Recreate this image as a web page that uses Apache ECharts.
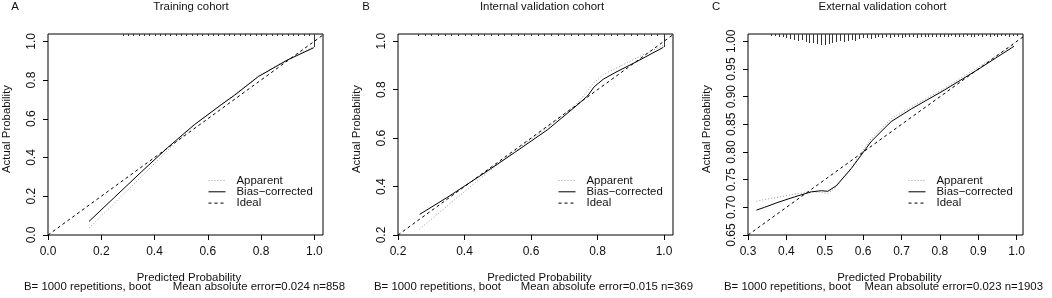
<!DOCTYPE html>
<html>
<head>
<meta charset="utf-8">
<script src="https://cdn.jsdelivr.net/npm/echarts@6/dist/echarts.min.js"></script>
<style>
  html, body { margin: 0; padding: 0; background: #fff; }
  #chart { width: 1052px; height: 298px; }
</style>
</head>
<body>
<div id="chart"></div>
<script>
// panel texts
const panelLetters = ["A", "B", "C"];
const panelTitles = ["Training cohort", "Internal validation cohort", "External validation cohort"];
const bootText = "B= 1000 repetitions, boot";
const errorTexts = [
  "Mean absolute error=0.024 n=858",
  "Mean absolute error=0.015 n=369",
  "Mean absolute error=0.023 n=1903",
];
const legendNames = ["Apparent", "Bias\u2212corrected", "Ideal"];

// tick values
const xTicksA = [0.0, 0.2, 0.4, 0.6, 0.8, 1.0];
const yTicksA = [0.0, 0.2, 0.4, 0.6, 0.8, 1.0];
const xTicksB = [0.2, 0.4, 0.6, 0.8, 1.0];
const yTicksB = [0.2, 0.4, 0.6, 0.8, 1.0];
const xTicksC = [0.3, 0.4, 0.5, 0.6, 0.7, 0.8, 0.9, 1.0];
const yTicksC = [0.65, 0.70, 0.75, 0.80, 0.85, 0.90, 0.95, 1.00];

// A: training cohort
const predA = [0.154, 0.25, 0.35, 0.45, 0.55, 0.65, 0.70, 0.79, 0.90, 0.998];
const apparentA = [0.036, 0.165, 0.300, 0.438, 0.568, 0.674, 0.724, 0.822, 0.907, 0.972];
const biasA = [0.070, 0.195, 0.325, 0.452, 0.570, 0.672, 0.721, 0.818, 0.904, 0.967];
const idealXA = [0, 1.0327];
const idealYA = [0, 1.0327];
const rugXA = [0.28, 0.30, 0.32, 0.34, 0.36, 0.38, 0.40, 0.42, 0.44, 0.46, 0.48, 0.50,
  0.52, 0.54, 0.56, 0.58, 0.60, 0.62, 0.64, 0.66, 0.68, 0.70, 0.72, 0.74, 0.76, 0.78,
  0.80, 0.82, 0.84, 0.86, 0.88, 0.90, 0.92, 0.94, 0.96, 0.98, 1.0];
const rugHA = [1, 1, 1, 1, 1, 1, 1, 1, 1, 1, 1, 1, 1, 1, 1, 1, 1, 1, 1, 1, 1, 1, 1, 1,
  1, 1, 1, 1, 1, 1, 1, 1, 1, 1, 1, 1, 12];

// B: internal validation cohort
const predB = [0.265, 0.35, 0.45, 0.55, 0.65, 0.735, 0.77, 0.79, 0.817, 0.852, 0.922, 0.998];
const apparentB = [0.225, 0.322, 0.437, 0.545, 0.645, 0.737, 0.795, 0.830, 0.862, 0.886, 0.934, 0.983];
const biasB = [0.285, 0.357, 0.447, 0.540, 0.635, 0.732, 0.774, 0.812, 0.843, 0.870, 0.919, 0.975];
const idealXB = [0.2, 1.027];
const idealYB = [0.2, 1.027];
const rugXB = [0.26, 0.28, 0.30, 0.32, 0.34, 0.36, 0.38, 0.40, 0.42, 0.44, 0.46, 0.48,
  0.50, 0.52, 0.54, 0.56, 0.58, 0.60, 0.62, 0.64, 0.66, 0.68, 0.70, 0.72, 0.74, 0.76,
  0.78, 0.80, 0.82, 0.84, 0.86, 0.88, 0.90, 0.92, 0.94, 0.96, 0.98, 1.0];
const rugHB = [1, 1, 1, 1, 1, 1, 1, 1, 1, 1, 1, 1, 1, 1, 1, 1, 1, 1, 1, 1, 1, 1, 1, 1,
  1, 1, 1, 1, 1, 1, 1, 1, 1, 1, 1, 1, 1, 12];

// C: external validation cohort
const predC = [0.322, 0.343, 0.378, 0.422, 0.465, 0.491, 0.508, 0.530, 0.569, 0.621, 0.673, 0.726, 0.812, 0.899, 0.993];
const apparentC = [0.711, 0.714, 0.718, 0.724, 0.728, 0.727, 0.725, 0.737, 0.772, 0.824, 0.860, 0.882, 0.915, 0.953, 0.994];
const biasC = [0.695, 0.700, 0.709, 0.719, 0.728, 0.730, 0.729, 0.739, 0.770, 0.819, 0.855, 0.878, 0.912, 0.949, 0.991];
const idealXC = [0.3, 1.0165];
const idealYC = [0.65, 1.008];
const rugXC = [0.36, 0.37, 0.38, 0.39, 0.40, 0.41, 0.42, 0.43, 0.44, 0.45, 0.46, 0.47,
  0.48, 0.49, 0.50, 0.51, 0.52, 0.53, 0.54, 0.55, 0.56, 0.57, 0.58, 0.59, 0.60, 0.61,
  0.62, 0.63, 0.64, 0.65, 0.66, 0.67, 0.68, 0.69, 0.70, 0.71, 0.72, 0.73, 0.74, 0.75,
  0.76, 0.77, 0.78, 0.79, 0.80, 0.81, 0.82, 0.83, 0.84, 0.85, 0.86, 0.87, 0.88, 0.89,
  0.90, 0.91, 0.92, 0.93, 0.94, 0.95, 0.96, 0.97, 0.98, 0.99, 1.00];
const rugHC = [1, 1, 2, 2, 3, 4, 5, 6, 5, 7, 8, 8, 9, 10, 10, 9, 8, 7, 6, 7, 6, 5, 6, 4,
  3, 3, 4, 3, 2, 3, 2, 3, 2, 2, 3, 2, 2, 2, 3, 2, 2, 2, 2, 2, 2, 2, 2, 1, 2, 2, 2, 1,
  2, 2, 1, 2, 1, 2, 1, 2, 1, 1, 2, 1, 1];

const font = '"Liberation Sans", Arial, sans-serif';
const ink = "#111";
const textSize = 11.4;

const panels = [
  { left: 48, xMin: 0, xMax: 1.0327, yMin: 0, yMax: 1.0377, xTicks: xTicksA, yTicks: yTicksA,
    xDec: 1, yDec: 1, pred: predA, app: apparentA, bias: biasA, ix: idealXA, iy: idealYA,
    rugX: rugXA, rugH: rugHA },
  { left: 398, xMin: 0.2, xMax: 1.027, yMin: 0.2, yMax: 1.030, xTicks: xTicksB, yTicks: yTicksB,
    xDec: 1, yDec: 1, pred: predB, app: apparentB, bias: biasB, ix: idealXB, iy: idealYB,
    rugX: rugXB, rugH: rugHB },
  { left: 748, xMin: 0.3, xMax: 1.0165, yMin: 0.65, yMax: 1.0132, xTicks: xTicksC, yTicks: yTicksC,
    xDec: 1, yDec: 2, pred: predC, app: apparentC, bias: biasC, ix: idealXC, iy: idealYC,
    rugX: rugXC, rugH: rugHC },
];

const gridTop = 34, gridH = 201, gridW = 275;

const option = {
  animation: false,
  grid: panels.map((p) => ({
    left: p.left, top: gridTop, width: gridW, height: gridH,
    show: true, borderColor: "#000", borderWidth: 1, backgroundColor: "transparent",
  })),
  xAxis: panels.map((p, i) => ({
    type: "value", gridIndex: i, min: p.xMin, max: p.xMax,
    axisLine: { show: false },
    splitLine: { show: false },
    axisTick: { show: true, length: 5, customValues: p.xTicks, lineStyle: { color: "#000" } },
    axisLabel: {
      customValues: p.xTicks, margin: 11, fontSize: 12, fontFamily: font, color: ink,
      formatter: (v) => v.toFixed(p.xDec),
    },
  })),
  yAxis: panels.map((p, i) => ({
    type: "value", gridIndex: i, min: p.yMin, max: p.yMax,
    axisLine: { show: false },
    splitLine: { show: false },
    axisTick: { show: true, length: 5, customValues: p.yTicks, lineStyle: { color: "#000" } },
    axisLabel: {
      customValues: p.yTicks, rotate: 90, margin: 10, fontSize: 12, fontFamily: font, color: ink,
      formatter: (v) => v.toFixed(p.yDec),
    },
  })),
  legend: panels.map((p) => ({
    orient: "vertical", left: p.left + 160, top: 175, padding: 0,
    itemGap: 0.3, itemWidth: 17, itemHeight: 11.3, selectedMode: false,
    data: legendNames,
    itemStyle: { color: "rgba(0,0,0,0)", borderColor: "rgba(0,0,0,0)", borderWidth: 0 },
    lineStyle: { width: 1 },
    textStyle: { fontSize: textSize, fontFamily: font, color: ink, padding: [0, 0, 0, 6] },
  })),
  series: [],
  graphic: [],
};

panels.forEach((p, i) => {
  const yTop = p.yMax;
  const unit = (p.yMax - p.yMin) / gridH; // one pixel in axis units
  option.series.push(
    {
      type: "custom", xAxisIndex: i, yAxisIndex: i, silent: true, clip: true,
      data: p.rugX.map((x, k) => [x, p.rugH[k]]),
      renderItem: (params, api) => {
        const a = api.coord([api.value(0), yTop]);
        const b = api.coord([api.value(0), yTop - api.value(1) * unit]);
        const x = Math.round(a[0]) + 0.5;
        return {
          type: "line",
          shape: { x1: x, y1: a[1], x2: x, y2: b[1] + 1 },
          style: { stroke: "#333", lineWidth: 1 },
        };
      },
    },
    {
      name: legendNames[0], type: "line", xAxisIndex: i, yAxisIndex: i,
      symbol: "none", data: p.pred.map((x, k) => [x, p.app[k]]),
      lineStyle: { color: "#9a9a9a", width: 1, type: [1, 2] }, itemStyle: { color: "#9a9a9a" },
    },
    {
      name: legendNames[1], type: "line", xAxisIndex: i, yAxisIndex: i,
      symbol: "none", data: p.pred.map((x, k) => [x, p.bias[k]]),
      lineStyle: { color: "#000", width: 1, type: "solid" }, itemStyle: { color: "#000" },
    },
    {
      name: legendNames[2], type: "line", xAxisIndex: i, yAxisIndex: i,
      symbol: "none", data: p.ix.map((x, k) => [x, p.iy[k]]),
      lineStyle: { color: "#000", width: 1, type: [3, 3] }, itemStyle: { color: "#000" },
    }
  );
});

function label(text, x, y, align, rot) {
  return {
    type: "text", x: x, y: y, rotation: rot || 0, silent: true,
    style: {
      text: text, fontSize: textSize, fontFamily: font, fill: ink,
      textAlign: align, textVerticalAlign: "middle",
    },
  };
}

const letterX = [15, 366, 716];
const titleX = [191, 542, 882.5];
const yNameX = [7, 357, 707];
const xNameX = [189, 539.5, 889.5];
const bootX = [24, 374, 724];
const errX = [345, 693, 1043];

panels.forEach((p, i) => {
  option.graphic.push(
    label(panelLetters[i], letterX[i], 7, "center"),
    label(panelTitles[i], titleX[i], 6.5, "center"),
    label("Actual Probability", yNameX[i], 129, "center", Math.PI / 2),
    label("Predicted Probability", xNameX[i], 277.5, "center"),
    label(bootText, bootX[i], 287, "left"),
    label(errorTexts[i], errX[i], 287, "right")
  );
});

const chart = echarts.init(document.getElementById("chart"), null, { renderer: "canvas" });
chart.setOption(option);
</script>
</body>
</html>
